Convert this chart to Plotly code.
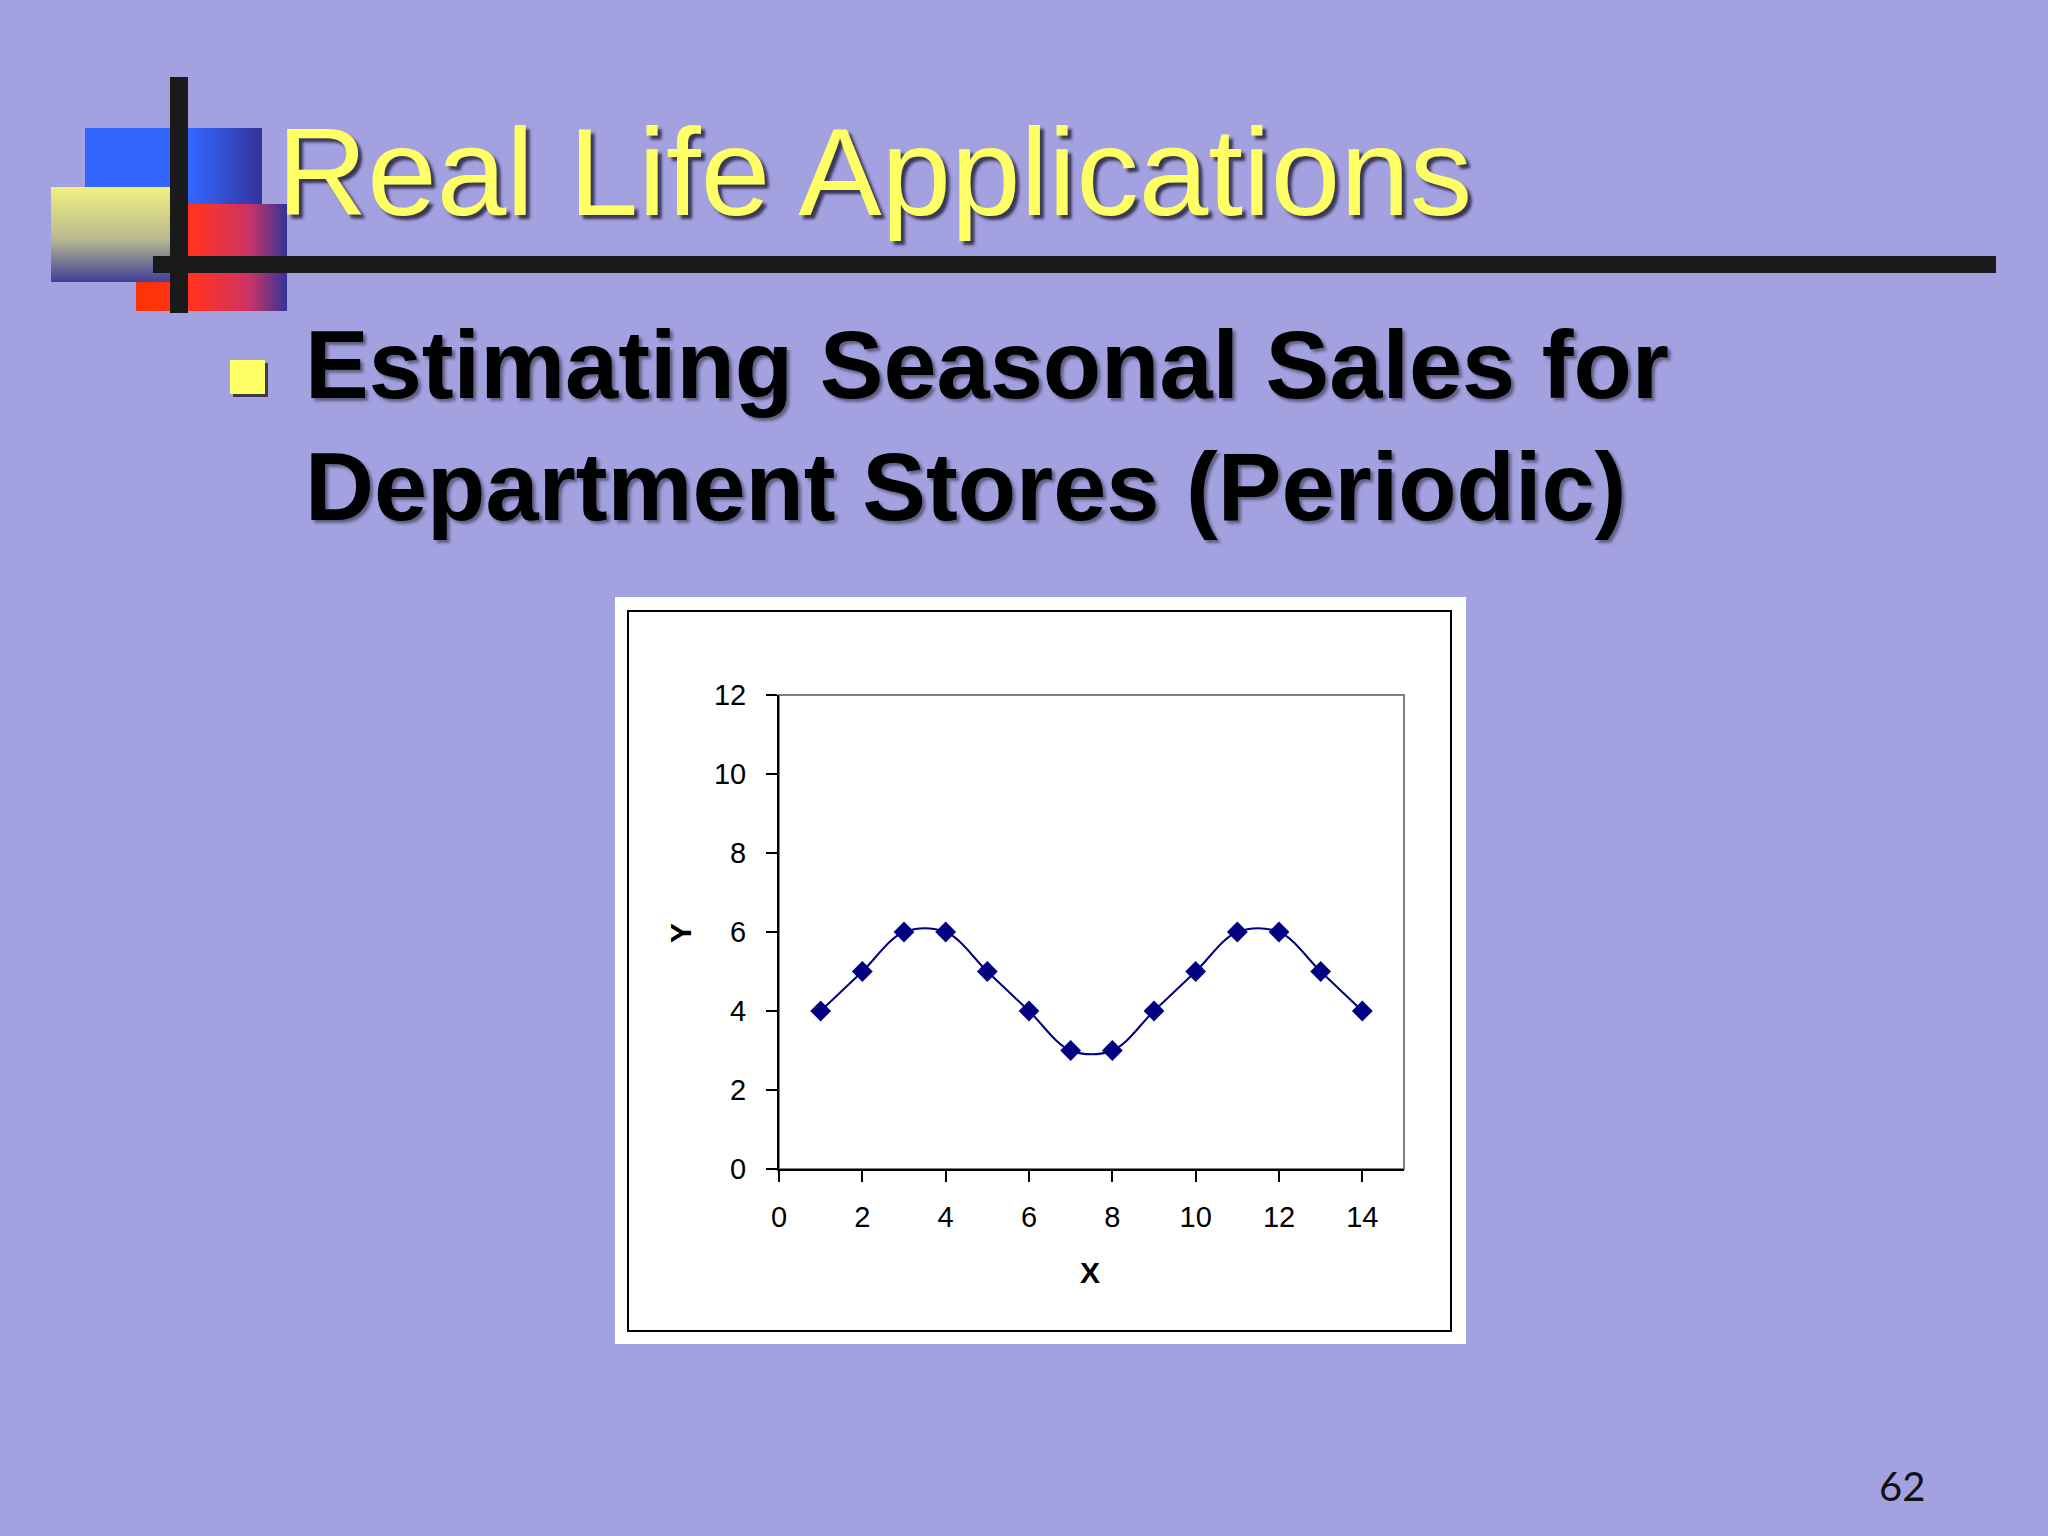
import plotly.graph_objects as go

# ---- data ----
x_vals = [1, 2, 3, 4, 5, 6, 7, 8, 9, 10, 11, 12, 13, 14]
y_vals = [4, 5, 6, 6, 5, 4, 3, 3, 4, 5, 6, 6, 5, 4]
x_ticks = [0, 2, 4, 6, 8, 10, 12, 14]
y_ticks = [0, 2, 4, 6, 8, 10, 12]
title_text = "Real Life Applications"
bullet_line1 = "Estimating Seasonal Sales for"
bullet_line2 = "Department Stores (Periodic)"
x_title = "X"
y_title = "Y"
slide_no = "62"

W, H = 2048, 1536
BG = "#A4A1E0"
NAVY = "#000080"


def px(v):
    return v / W


def py(v):
    return 1 - v / H


fig = go.Figure()

# ---- decorative gradient blocks (page-coordinate subplot) ----
def rect(x0, y0, x1, y1):
    return [x0, x1, x1, x0, x0], [y0, y0, y1, y1, y0]

blocks = [
    ((85, 128, 262, 250), "horizontal", [[0, "#3366FF"], [0.6, "#3366FF"], [1, "#33339A"]]),
    ((136, 204, 287, 311), "horizontal", [[0, "#FF3300"], [0.4, "#FF3322"], [0.75, "#CC3366"], [1, "#333399"]]),
    ((51, 187, 170, 282), "vertical", [[0, "#3F3F9A"], [0.45, "#B8B890"], [1, "#F2F080"]]),
]
for (x0, y0, x1, y1), gtype, cs in blocks:
    xs, ys = rect(x0, y0, x1, y1)
    fig.add_trace(go.Scatter(
        x=xs, y=ys, xaxis="x2", yaxis="y2", mode="lines", fill="toself",
        line=dict(width=0), fillgradient=dict(type=gtype, colorscale=cs),
        hoverinfo="skip", showlegend=False))

# ---- data series ----
fig.add_trace(go.Scatter(
    x=x_vals, y=y_vals, mode="lines+markers",
    line=dict(color=NAVY, width=2, shape="spline", smoothing=1),
    marker=dict(symbol="diamond", size=16, color=NAVY),
    hoverinfo="skip", showlegend=False))

# plot domain (pixels)
L, R, T, B = 779, 1404, 695, 1169

axis_font = dict(family="Liberation Sans, Arial, sans-serif", size=29, color="black")

fig.update_layout(
    width=W, height=H, autosize=False,
    margin=dict(l=0, r=0, t=0, b=0, pad=0, autoexpand=False),
    showlegend=False,
    paper_bgcolor=BG, plot_bgcolor="rgba(0,0,0,0)",
    xaxis=dict(domain=[px(L), px(R)], range=[0, 15], tickvals=x_ticks,
               showline=True, linecolor="black", linewidth=2,
               ticks="outside", ticklen=11, tickwidth=2, tickcolor="black",
               showgrid=False, zeroline=False, tickfont=axis_font,
               ticklabelstandoff=10, anchor="y", automargin=False),
    yaxis=dict(domain=[py(B), py(T)], range=[0, 12], tickvals=y_ticks,
               showline=True, linecolor="black", linewidth=2,
               ticks="outside", ticklen=11, tickwidth=2, tickcolor="black",
               showgrid=False, zeroline=False, tickfont=axis_font,
               ticklabelstandoff=14, anchor="x", automargin=False),
    xaxis2=dict(domain=[0, 1], range=[0, W], visible=False, anchor="y2", fixedrange=True),
    yaxis2=dict(domain=[0, 1], range=[H, 0], visible=False, anchor="x2", fixedrange=True),
)

shapes = [
    # white chart box
    dict(type="rect", xref="paper", yref="paper", x0=px(615), x1=px(1466), y0=py(1344), y1=py(597),
         fillcolor="white", line=dict(width=0), layer="below"),
    # black inner frame
    dict(type="rect", xref="paper", yref="paper", x0=px(628), x1=px(1451), y0=py(1331), y1=py(611),
         fillcolor="white", line=dict(color="black", width=2), layer="below"),
    # gray plot-area border (top/right)
    dict(type="rect", xref="paper", yref="paper", x0=px(L), x1=px(R), y0=py(B), y1=py(T),
         fillcolor="white", line=dict(color="#808080", width=2), layer="below"),
    # title rules
    dict(type="rect", xref="paper", yref="paper", x0=px(153), x1=px(1996), y0=py(273), y1=py(256),
         fillcolor="#1A1A1A", line=dict(width=0), layer="above"),
    dict(type="rect", xref="paper", yref="paper", x0=px(170), x1=px(188), y0=py(313), y1=py(77),
         fillcolor="#1A1A1A", line=dict(width=0), layer="above"),
    # bullet (shadow + square)
    dict(type="rect", xref="paper", yref="paper", x0=px(233), x1=px(268), y0=py(397), y1=py(363),
         fillcolor="#3A3A4A", line=dict(width=0), layer="above"),
    dict(type="rect", xref="paper", yref="paper", x0=px(230), x1=px(265), y0=py(394), y1=py(360),
         fillcolor="#FFFF66", line=dict(width=0), layer="above"),
]
fig.update_layout(shapes=shapes)

annotations = [
    dict(text=title_text, x=px(275), y=py(171), xanchor="left", yanchor="middle",
         font=dict(family="Liberation Sans, Arial, sans-serif", size=125, color="#FFFF66",
                   shadow="4px 4px 3px rgba(20,20,40,0.75)")),
    dict(text=bullet_line1, x=px(303), y=py(365), xanchor="left", yanchor="middle",
         font=dict(family="Liberation Sans, Arial, sans-serif", size=95.5, color="black", weight="bold",
                   shadow="3px 3px 3px rgba(50,50,70,0.6)")),
    dict(text=bullet_line2, x=px(303), y=py(487), xanchor="left", yanchor="middle",
         font=dict(family="Liberation Sans, Arial, sans-serif", size=95.5, color="black", weight="bold",
                   shadow="3px 3px 3px rgba(50,50,70,0.6)")),
    dict(text=x_title, x=px(1090), y=py(1272), xanchor="center", yanchor="middle",
         font=dict(family="Liberation Sans, Arial, sans-serif", size=30, color="black", weight="bold")),
    dict(text=y_title, x=px(680), y=py(933), xanchor="center", yanchor="middle", textangle=-90,
         font=dict(family="Liberation Sans, Arial, sans-serif", size=30, color="black", weight="bold")),
    dict(text=slide_no, x=px(1902), y=py(1486), xanchor="center", yanchor="middle",
         font=dict(family="Lato, Carlito, sans-serif", size=40, color="#111111")),
]
for a in annotations:
    a.update(xref="paper", yref="paper", showarrow=False)
fig.update_layout(annotations=annotations)

post = (
    "var d=document.getElementById('{plot_id}');"
    "d.style.position='fixed';d.style.left='0px';d.style.top='0px';d.style.margin='0';"
    "document.documentElement.style.overflow='hidden';"
    "document.body.style.overflow='hidden';"
    "document.body.style.margin='0';document.body.style.padding='0';"
    "document.body.style.background='" + BG + "';"
)
fig.write_html("out.html", config={"displayModeBar": False}, post_script=post)
